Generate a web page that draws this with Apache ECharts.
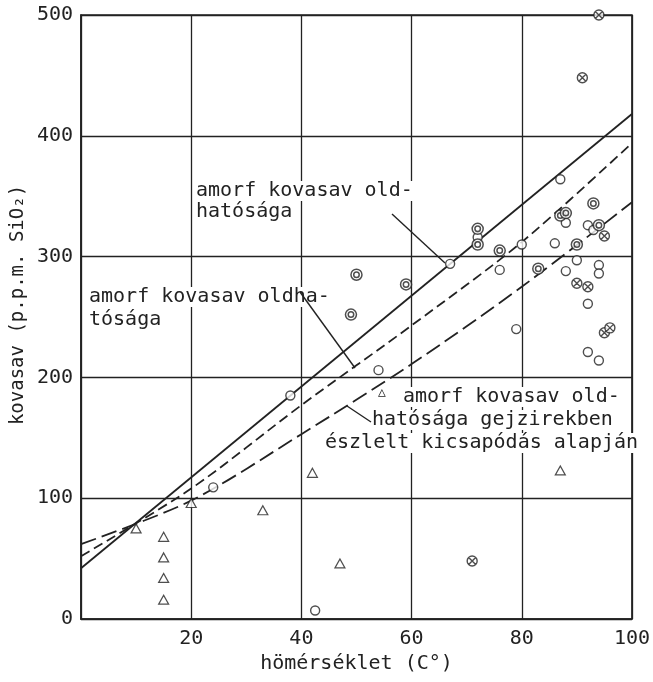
<!DOCTYPE html>
<html>
<head>
<meta charset="utf-8">
<script src="https://cdn.jsdelivr.net/npm/echarts@6/dist/echarts.min.js"></script>
<style>
html,body{margin:0;padding:0;background:#fff;}
#chart{width:653px;height:682px;}
</style>
</head>
<body>
<div id="chart"></div>
<script>
// x: hőmérséklet (°C), y: kovasav (p.p.m. SiO2)
const singleCircles = [[24,109],[38,185],[42.5,7],[54,206],[67,294],[72,316],[76,289],[79,240],[80,310],[86,311],[87,364],[88,328],[88,288],[90,297],[92,326],[93,322],[92,261],[92,221],[94,214],[94,293],[94,286]];
const doubleCircles = [[49,252],[50,285],[59,277],[72,323],[72,310],[76,305],[83,290],[87,334],[88,336],[90,310],[93,344],[94,326]];
const crossedCircles = [[71,48],[90,278],[92,275],[95,237],[96,241],[95,317],[91,448],[94,500]];
const triangles = [[10,75],[15,68],[15,51],[15,34],[15,16],[20,96],[33,90],[42,121],[47,46],[87,123]];

const solidLine = [[0,42],[100,418]];
const dashedLine = [[0,52],[20,108],[40,177],[60,243],[80,312],[100,394]];
const longDashLine = [[0,62],[20,98],[40,153],[60,211],[80,275],[100,345]];

const xMin = 0, xMax = 100, xStep = 20;
const yMin = 0, yMax = 500, yStep = 100;

const INK = '#222';
const FONT = 'DejaVu Sans Mono';

const chart = echarts.init(document.getElementById('chart'), null, {renderer:'canvas'});

const dblPath = 'path://M10,0A10,10,0,1,1,10,20A10,10,0,1,1,10,0ZM10,5A5,5,0,1,1,10,15A5,5,0,1,1,10,5Z';
const crossPath = 'path://M10,0A10,10,0,1,1,10,20A10,10,0,1,1,10,0ZM3,3L17,17M17,3L3,17';

function txt(text, x, y, size, extra) {
  return Object.assign({
    type: 'text', x: x, y: y, z: 1,
    style: {
      text: text, fill: INK, font: size + 'px "' + FONT + '"',
      verticalAlign: 'middle', align: 'left',
      backgroundColor: '#fff', padding: [0, 2]
    }
  }, extra || {});
}
function seg(x1, y1, x2, y2) {
  return {type:'line', z:1, shape:{x1:x1,y1:y1,x2:x2,y2:y2}, style:{stroke:INK, lineWidth:1.4}};
}

const option = {
  backgroundColor: '#fff',
  animation: false,
  grid: {left: 81, right: 17, top: 15, bottom: 63, show: true, borderColor: INK, borderWidth: 1.6, backgroundColor: 'transparent'},
  xAxis: {
    type: 'value', min: xMin, max: xMax, interval: xStep,
    name: 'hömérséklet (C°)', nameLocation: 'middle', nameGap: 31,
    nameTextStyle: {fontFamily: FONT, fontSize: 20, color: INK},
    axisLine: {show: true, lineStyle: {color: INK, width: 1.6}},
    axisTick: {show: false},
    axisLabel: {fontFamily: FONT, fontSize: 20, color: INK, margin: 10, showMinLabel: false},
    splitLine: {show: true, lineStyle: {color: INK, width: 1.3}}
  },
  yAxis: {
    type: 'value', min: yMin, max: yMax, interval: yStep,
    axisLine: {show: true, lineStyle: {color: INK, width: 1.6}},
    axisTick: {show: false},
    axisLabel: {fontFamily: FONT, fontSize: 20, color: INK, margin: 8},
    splitLine: {show: true, lineStyle: {color: INK, width: 1.3}}
  },
  series: [
    {type:'line', data: solidLine, symbol:'none', z:2, lineStyle:{color:INK, width:1.8, type:'solid'}},
    {type:'line', data: dashedLine, symbol:'none', smooth:0.3, z:2, lineStyle:{color:INK, width:1.8, type:[10,5]}},
    {type:'line', data: longDashLine, symbol:'none', smooth:0.3, z:2, lineStyle:{color:INK, width:1.8, type:[16,6]}},
    {type:'scatter', data: singleCircles, symbol:'circle', symbolSize:9, z:3,
      itemStyle:{color:'#fff', borderColor:INK, borderWidth:1.4}},
    {type:'scatter', data: doubleCircles, symbol: dblPath, symbolSize:11, z:3,
      itemStyle:{color:'#fff', borderColor:INK, borderWidth:1.5}},
    {type:'scatter', data: crossedCircles, symbol: crossPath, symbolSize:10, z:3,
      itemStyle:{color:'#fff', borderColor:INK, borderWidth:1.4}},
    {type:'scatter', data: triangles, symbol:'triangle', symbolSize:[10,9], z:3,
      itemStyle:{color:'#fff', borderColor:INK, borderWidth:1.2}}
  ],
  graphic: [
    txt('amorf kovasav old-', 194, 191, 20),
    txt('hatósága', 194, 212, 20),
    seg(392, 214, 445, 263),
    txt('amorf kovasav oldha-', 87, 297, 20),
    txt('tósága', 87, 320, 20),
    seg(300, 292, 355, 368),
    txt('△', 376, 393, 13),
    txt('amorf kovasav old-', 401, 397, 20),
    txt('hatósága gejzirekben', 370, 420, 20),
    txt('észlelt kicsapódás alapján', 323, 443, 20),
    seg(347, 406, 371, 422),
    {type:'text', x: 18, y: 305, rotation: Math.PI/2, z: 1,
      style:{text:'kovasav (p.p.m. SiO₂)', fill: INK, font: '19px "' + FONT + '"', align:'center', verticalAlign:'middle'}}
  ]
};
chart.setOption(option);
</script>
</body>
</html>
